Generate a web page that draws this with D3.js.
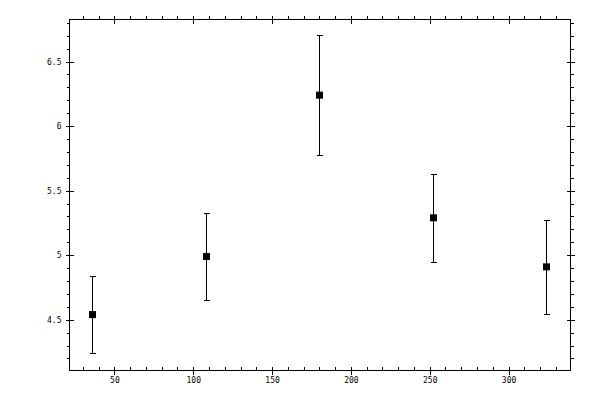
<!DOCTYPE html>
<html>
<head>
<meta charset="utf-8">
<script src="https://cdn.jsdelivr.net/npm/d3@7"></script>
<style>
  html, body { margin: 0; padding: 0; background: #fff; }
  svg { display: block; }
  text { font-family: "DejaVu Sans Mono", monospace; font-size: 8px; fill: #000; }
</style>
</head>
<body>
<svg id="chart" width="600" height="400"></svg>
<script>
// Data
const xValues = [36, 108, 180, 252, 324];
const yValues = [4.54, 4.99, 6.24, 5.29, 4.91];
const yErrors = [0.30, 0.34, 0.465, 0.34, 0.365];
const xTickLabels = [50, 100, 150, 200, 250, 300];
const yTickLabels = [4.5, 5, 5.5, 6, 6.5];

const svg = d3.select("#chart");
const pLeft = 69.5, pRight = 570.5, pTop = 19.5, pBottom = 370.5;

const x = d3.scaleLinear().domain([21.5, 339.3]).range([pLeft, pRight]);
const y = d3.scaleLinear().domain([4.107, 6.826]).range([pBottom, pTop]);

const g = svg.append("g");

// frame
g.append("rect")
  .attr("x", pLeft).attr("y", pTop)
  .attr("width", pRight - pLeft).attr("height", pBottom - pTop)
  .attr("fill", "none").attr("stroke", "#000").attr("stroke-width", 1);

const xMinor = d3.range(30, 340, 10).filter(v => v % 50 !== 0);
const yMinor = d3.range(42, 69, 1).map(v => v / 10).filter(v => Math.round(v * 10) % 5 !== 0 && v > 4.107 && v < 6.826);

const tickStyle = sel => sel.attr("stroke", "#000").attr("stroke-width", 1).attr("shape-rendering", "crispEdges");

// bottom axis labels
const bottomAxis = d3.axisBottom(x).tickValues(xTickLabels).tickSize(0).tickPadding(7)
  .tickFormat(d3.format("d"));
const bAx = g.append("g").attr("transform", `translate(0,${pBottom})`).call(bottomAxis);
bAx.select(".domain").remove();

// y axis labels
const leftAxis = d3.axisLeft(y).tickValues(yTickLabels).tickSize(0).tickPadding(8)
  .tickFormat(d => String(d));
const lAx = g.append("g").attr("transform", `translate(${pLeft},0)`).call(leftAxis);
lAx.select(".domain").remove();

const ticks = g.append("g");
xTickLabels.forEach(v => {
  const px = Math.round(x(v)) + 0.5;
  ticks.append("line").attr("x1", px).attr("x2", px).attr("y1", pBottom - 4).attr("y2", pBottom + 4).call(tickStyle);
  ticks.append("line").attr("x1", px).attr("x2", px).attr("y1", pTop - 4).attr("y2", pTop + 4).call(tickStyle);
});
xMinor.forEach(v => {
  const px = Math.round(x(v)) + 0.5;
  ticks.append("line").attr("x1", px).attr("x2", px).attr("y1", pBottom - 3.5).attr("y2", pBottom).call(tickStyle);
  ticks.append("line").attr("x1", px).attr("x2", px).attr("y1", pTop - 3.5).attr("y2", pTop).call(tickStyle);
});
yTickLabels.forEach(v => {
  const py = Math.round(y(v)) + 0.5;
  ticks.append("line").attr("x1", pLeft - 4).attr("x2", pLeft + 4).attr("y1", py).attr("y2", py).call(tickStyle);
  ticks.append("line").attr("x1", pRight - 4).attr("x2", pRight + 4).attr("y1", py).attr("y2", py).call(tickStyle);
});
yMinor.forEach(v => {
  const py = Math.round(y(v)) + 0.5;
  ticks.append("line").attr("x1", pLeft - 3).attr("x2", pLeft).attr("y1", py).attr("y2", py).call(tickStyle);
  ticks.append("line").attr("x1", pRight).attr("x2", pRight + 3.5).attr("y1", py).attr("y2", py).call(tickStyle);
});

// error bars
const data = xValues.map((xv, i) => ({ x: xv, y: yValues[i], e: yErrors[i] }));
const eb = g.append("g");
data.forEach(d => {
  const px = Math.round(x(d.x)) + 0.5;
  const y1 = y(d.y + d.e), y2 = y(d.y - d.e);
  eb.append("line").attr("x1", px).attr("x2", px).attr("y1", y1).attr("y2", y2).call(tickStyle);
  eb.append("line").attr("x1", px - 3).attr("x2", px + 3).attr("y1", Math.round(y1) + 0.5).attr("y2", Math.round(y1) + 0.5).call(tickStyle);
  eb.append("line").attr("x1", px - 3).attr("x2", px + 3).attr("y1", Math.round(y2) + 0.5).attr("y2", Math.round(y2) + 0.5).call(tickStyle);
});
g.append("g").selectAll("rect").data(data).join("rect")
  .attr("x", d => Math.round(x(d.x)) + 0.5 - 3.5)
  .attr("y", d => y(d.y) - 3.5)
  .attr("width", 7).attr("height", 7)
  .attr("fill", "#000");
</script>
</body>
</html>
